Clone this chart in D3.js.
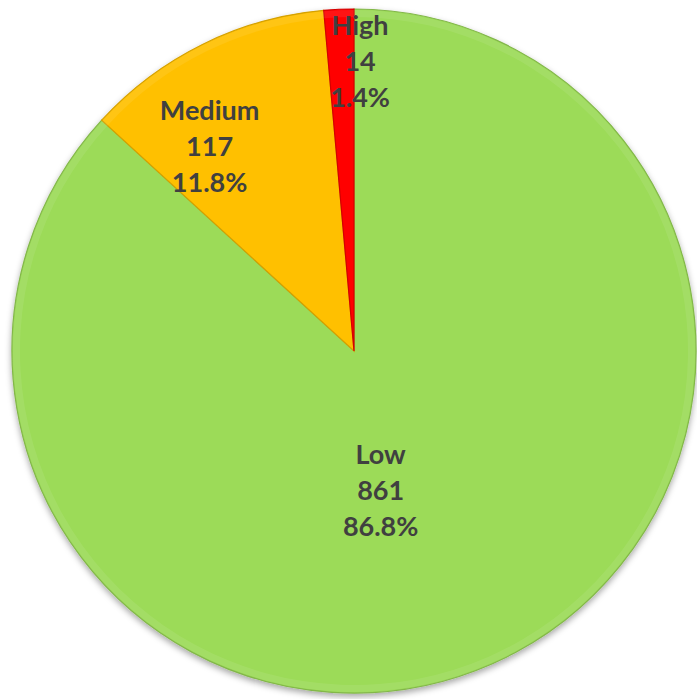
<!DOCTYPE html>
<html><head><meta charset="utf-8">
<script src="https://cdn.jsdelivr.net/npm/d3@7"></script>
<style>html,body{margin:0;padding:0;background:#fff;}svg{display:block;}</style>
</head><body>
<svg id="chart" width="697" height="699"></svg>
<script>
const categories = ["Low", "Medium", "High"];
const counts = [861, 117, 14];
const percentLabels = ["86.8%", "11.8%", "1.4%"];
const colors = ["#9CDB58", "#FFC000", "#FF0000"];

const svg = d3.select("#chart");
const cx = 354, cy = 351, r = 342;

const defs = svg.append("defs");
const f = defs.append("filter").attr("id","shadow").attr("x","-10%").attr("y","-10%").attr("width","120%").attr("height","120%");
f.append("feDropShadow").attr("dx",0).attr("dy",3).attr("stdDeviation",3).attr("flood-color","#000").attr("flood-opacity",0.35);

const g = svg.append("g").attr("transform",`translate(${cx},${cy})`);
const pie = d3.pie().sort(null).value(d=>d)(counts);
const arc = d3.arc().innerRadius(0).outerRadius(r);

g.append("g").attr("filter","url(#shadow)")
 .selectAll("path").data(pie).join("path")
 .attr("d", arc)
 .attr("fill",(d,i)=>colors[i])
 .attr("stroke",(d,i)=>d3.color(colors[i]).darker(0.5))
 .attr("stroke-width",1.2);

const rim = d3.arc().innerRadius(r-8).outerRadius(r-1);
g.selectAll("path.rim").data(pie).join("path").attr("class","rim")
 .attr("d", rim).attr("fill","#fff").attr("opacity",0.08);

const labelFrac = [0.44, 0.735, 0.855];
const nudge = [[-34, 2], [-33, 21], [19, 3]];
const lines = pie.map((d,i)=>{
  const a = (d.startAngle+d.endAngle)/2;
  const rr = r*labelFrac[i];
  return {x: Math.sin(a)*rr + nudge[i][0], y: -Math.cos(a)*rr + nudge[i][1], t:[categories[i], String(counts[i]), percentLabels[i]]};
});
const lab = g.selectAll("text.lab").data(lines).join("text").attr("class","lab")
 .attr("text-anchor","middle")
 .attr("font-family","Lato, 'Open Sans', sans-serif")
 .attr("font-weight","bold").attr("font-size",27).attr("fill","#404040");
lab.each(function(d){
  const t = d3.select(this);
  d.t.forEach((s,k)=>{
    t.append("tspan").attr("x",d.x).attr("y",d.y + (k-1)*36 + 9).text(s);
  });
});
</script>
</body></html>
